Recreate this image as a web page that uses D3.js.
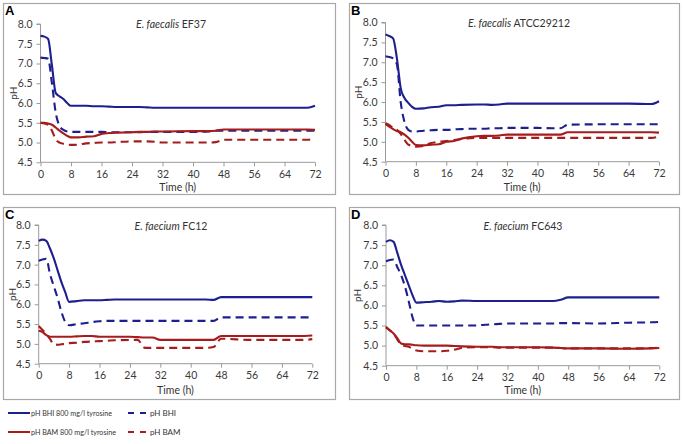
<!DOCTYPE html>
<html><head><meta charset="utf-8">
<script src="https://cdn.jsdelivr.net/npm/d3@7"></script>
<style>body{margin:0;background:#fff}svg{display:block}</style>
</head><body><svg id="c" width="684" height="444"></svg>
<script>
const hours = [0,1,2,3,4,5,6,7,8,10,12,14,16,18,20,24,26,28,30,32,40,44,46,48,56,64,70,72];
const xTicks = [0,8,16,24,32,40,48,56,64,72];
const yTicks = [4.5,5.0,5.5,6.0,6.5,7.0,7.5,8.0];
const seriesNames = ["pH BHI 800 mg/l tyrosine","pH BHI","pH BAM 800 mg/l tyrosine","pH BAM"];
const panelLetters = ["A","B","C","D"];
const speciesNames = ["E. faecalis","E. faecalis","E. faecium","E. faecium"];
const strainNames = ["EF37","ATCC29212","FC12","FC643"];

const A_bhiTyr = [7.70,7.68,7.62,6.95,6.25,6.17,6.10,6.00,5.93,5.93,5.93,5.92,5.92,5.91,5.90,5.90,5.90,5.89,5.88,5.88,5.88,5.88,5.88,5.88,5.88,5.88,5.88,5.93];
const A_bhi    = [7.15,7.14,7.12,6.50,5.75,5.42,5.32,5.28,5.27,5.27,5.27,5.27,5.27,5.26,5.26,5.26,5.26,5.27,5.27,5.27,5.27,5.28,5.30,5.30,5.30,5.30,5.30,5.30];
const A_bamTyr = [5.50,5.50,5.48,5.45,5.38,5.30,5.23,5.17,5.13,5.13,5.15,5.16,5.22,5.24,5.25,5.26,5.27,5.27,5.28,5.28,5.29,5.29,5.30,5.33,5.33,5.33,5.33,5.32];
const A_bam    = [5.50,5.48,5.45,5.30,5.08,5.00,4.97,4.95,4.94,4.95,4.98,4.99,5.00,5.00,5.01,5.03,5.03,5.03,5.02,5.00,5.00,5.00,5.01,5.07,5.07,5.07,5.07,5.10];

const B_bhiTyr = [7.70,7.66,7.60,7.10,6.35,6.10,5.98,5.88,5.83,5.84,5.87,5.88,5.92,5.92,5.93,5.94,5.94,5.93,5.94,5.96,5.96,5.96,5.96,5.96,5.96,5.96,5.95,6.02];
const B_bhi    = [7.15,7.13,7.10,6.95,6.00,5.50,5.30,5.26,5.26,5.28,5.29,5.30,5.30,5.31,5.32,5.33,5.33,5.34,5.34,5.35,5.35,5.34,5.34,5.43,5.44,5.44,5.44,5.44];
const B_bamTyr = [5.45,5.38,5.32,5.27,5.24,5.18,5.10,5.00,4.92,4.91,4.93,4.94,5.00,5.02,5.08,5.14,5.15,5.15,5.16,5.18,5.18,5.18,5.18,5.24,5.24,5.24,5.24,5.23];
const B_bam    = [5.47,5.42,5.35,5.30,5.20,5.05,4.93,4.90,4.88,4.90,4.97,5.00,5.02,5.04,5.07,5.10,5.10,5.10,5.10,5.10,5.10,5.10,5.10,5.10,5.10,5.10,5.10,5.13];

const C_bhiTyr = [7.60,7.63,7.60,7.40,7.15,6.85,6.55,6.30,6.06,6.08,6.10,6.10,6.10,6.11,6.12,6.12,6.12,6.12,6.12,6.12,6.12,6.12,6.11,6.18,6.18,6.18,6.18,6.18];
const C_bhi    = [7.10,7.13,7.15,6.75,6.45,6.15,5.80,5.55,5.47,5.50,5.52,5.55,5.57,5.58,5.58,5.58,5.58,5.58,5.58,5.58,5.58,5.58,5.58,5.67,5.67,5.67,5.67,5.67];
const C_bamTyr = [5.33,5.30,5.22,5.18,5.18,5.18,5.18,5.18,5.18,5.19,5.20,5.20,5.18,5.18,5.18,5.18,5.17,5.16,5.16,5.10,5.10,5.10,5.10,5.20,5.20,5.20,5.20,5.21];
const C_bam    = [5.45,5.35,5.25,5.12,4.99,4.98,4.99,5.00,5.02,5.03,5.05,5.06,5.07,5.08,5.09,5.10,5.10,4.90,4.90,4.90,4.90,4.90,4.92,5.13,5.10,5.10,5.10,5.12];

const D_bhiTyr = [7.58,7.62,7.58,7.30,7.00,6.75,6.50,6.25,6.07,6.08,6.09,6.11,6.09,6.10,6.12,6.11,6.11,6.11,6.11,6.11,6.11,6.11,6.14,6.20,6.20,6.20,6.20,6.20];
const D_bhi    = [7.10,7.13,7.14,6.95,6.75,6.47,6.10,5.70,5.50,5.50,5.50,5.50,5.50,5.50,5.50,5.50,5.52,5.53,5.54,5.55,5.55,5.55,5.56,5.56,5.55,5.57,5.58,5.59];
const D_bamTyr = [5.45,5.38,5.30,5.18,5.05,5.03,5.03,5.02,5.01,5.00,5.00,5.00,5.00,4.99,4.98,4.97,4.97,4.97,4.96,4.96,4.96,4.95,4.94,4.93,4.93,4.92,4.93,4.94];
const D_bam    = [5.47,5.38,5.30,5.15,5.02,4.99,4.97,4.92,4.88,4.86,4.86,4.86,4.87,4.90,4.94,4.96,4.96,4.96,4.95,4.95,4.95,4.95,4.94,4.93,4.93,4.93,4.94,4.95];

const panelData = [
  [A_bhiTyr, A_bhi, A_bamTyr, A_bam],
  [B_bhiTyr, B_bhi, B_bamTyr, B_bam],
  [C_bhiTyr, C_bhi, C_bamTyr, C_bam],
  [D_bhiTyr, D_bhi, D_bamTyr, D_bam]
];

const BLUE = "#1d1f8f", RED = "#a51c1c";
const seriesStyle = [
  {color: BLUE, dash: null},
  {color: BLUE, dash: "8,5"},
  {color: RED, dash: null},
  {color: RED, dash: "8,5"}
];

const layout = [
  {box:[3,3,332,191],  x0:40.5, x1:315, yT:24,   yB:162.3, titleX:171, titleY:28, timeY:191, phX:13, letterX:5, letterY:15},
  {box:[349,3,330,191], x0:385.5, x1:659, yT:22.5, yB:161.7, titleX:519, titleY:27, timeY:191, phX:358, letterX:351, letterY:15},
  {box:[3,207,332,192], x0:38.7, x1:312.3, yT:225, yB:363.7, titleX:171, titleY:230, timeY:394, phX:12, letterX:5, letterY:219},
  {box:[349,207,330,192], x0:386, x1:659.3, yT:225, yB:365.7, titleX:523, titleY:230, timeY:394, phX:357, letterX:351, letterY:219}
];

const svg = d3.select("#c");
const FONT = "Lato, 'Open Sans', sans-serif";
const AXC = "#9a9a9a";

layout.forEach((L, i) => {
  const g = svg.append("g");
  g.append("rect").attr("x", L.box[0]+0.5).attr("y", L.box[1]+0.5)
    .attr("width", L.box[2]).attr("height", L.box[3])
    .attr("fill", "#fff").attr("stroke", "#a8a8a8").attr("stroke-width", 1.2);

  const x = d3.scaleLinear().domain([0,72]).range([L.x0, L.x1]);
  const y = d3.scaleLinear().domain([4.5,8.0]).range([L.yB, L.yT]);

  const xa = g.append("g").attr("transform", `translate(0,${L.yB})`)
    .call(d3.axisBottom(x).tickValues(xTicks).tickSize(4).tickPadding(4).tickFormat(d3.format("d")));
  const ya = g.append("g").attr("transform", `translate(${L.x0},0)`)
    .call(d3.axisLeft(y).tickValues(yTicks).tickSize(4).tickPadding(4).tickFormat(d3.format(".1f")));
  [xa, ya].forEach(a => {
    a.selectAll("path").attr("stroke", AXC);
    a.selectAll("line").attr("stroke", AXC);
    a.selectAll("text").attr("fill", "#3a3a3a").style("font-family", FONT).style("font-size", "10.5px");
  });
  ya.select(".domain").attr("d", `M0,${L.yB}V${L.yT}M-4,${L.yT}H0`);
  xa.select(".domain").attr("d", `M${L.x0},0H${L.x1}`);

  const line = d3.line().x((d, k) => x(hours[k])).y(d => y(d)).curve(d3.curveMonotoneX);
  panelData[i].forEach((vals, s) => {
    g.append("path").datum(vals).attr("d", line)
      .attr("fill", "none").attr("stroke", seriesStyle[s].color)
      .attr("stroke-width", 2.1)
      .attr("stroke-dasharray", seriesStyle[s].dash);
  });

  g.append("text").attr("x", L.letterX).attr("y", L.letterY)
    .style("font-family", "'Liberation Sans', Arial, sans-serif").style("font-weight", "bold")
    .style("font-size", "13px").attr("fill", "#000").text(panelLetters[i]);

  const t = g.append("text").attr("x", L.titleX).attr("y", L.titleY).attr("text-anchor", "middle")
    .style("font-family", FONT).style("font-size", "10.5px").attr("fill", "#333");
  t.append("tspan").style("font-style", "italic").text(speciesNames[i]);
  t.append("tspan").text(" " + strainNames[i]);

  g.append("text").attr("x", (L.x0 + L.x1) / 2).attr("y", L.timeY).attr("text-anchor", "middle")
    .style("font-family", FONT).style("font-size", "10.5px").attr("fill", "#333").text("Time (h)");

  g.append("text").attr("transform", `translate(${L.phX},${(L.yT + L.yB) / 2}) rotate(-90)`)
    .attr("text-anchor", "middle").attr("dy", "0.35em")
    .style("font-family", FONT).style("font-size", "10px").attr("fill", "#333").text("pH");
});

const legendPos = [
  {x:8, y:413, tx:31, w:81},
  {x:128, y:413, tx:150, w:null},
  {x:8, y:432, tx:31, w:85},
  {x:128, y:432, tx:150, w:null}
];
seriesNames.forEach((name, s) => {
  const p = legendPos[s];
  svg.append("line").attr("x1", p.x).attr("x2", p.x + (seriesStyle[s].dash ? 19 : 22))
    .attr("y1", p.y).attr("y2", p.y)
    .attr("stroke", seriesStyle[s].color).attr("stroke-width", 2)
    .attr("stroke-dasharray", seriesStyle[s].dash ? "6,6" : null);
  const tx = svg.append("text").attr("x", p.tx).attr("y", p.y).attr("dy", "0.35em")
    .style("font-family", FONT).style("font-size", "8px").attr("fill", "#333").text(name);
  if (p.w) tx.attr("textLength", p.w).attr("lengthAdjust", "spacingAndGlyphs");
});
</script></body></html>
